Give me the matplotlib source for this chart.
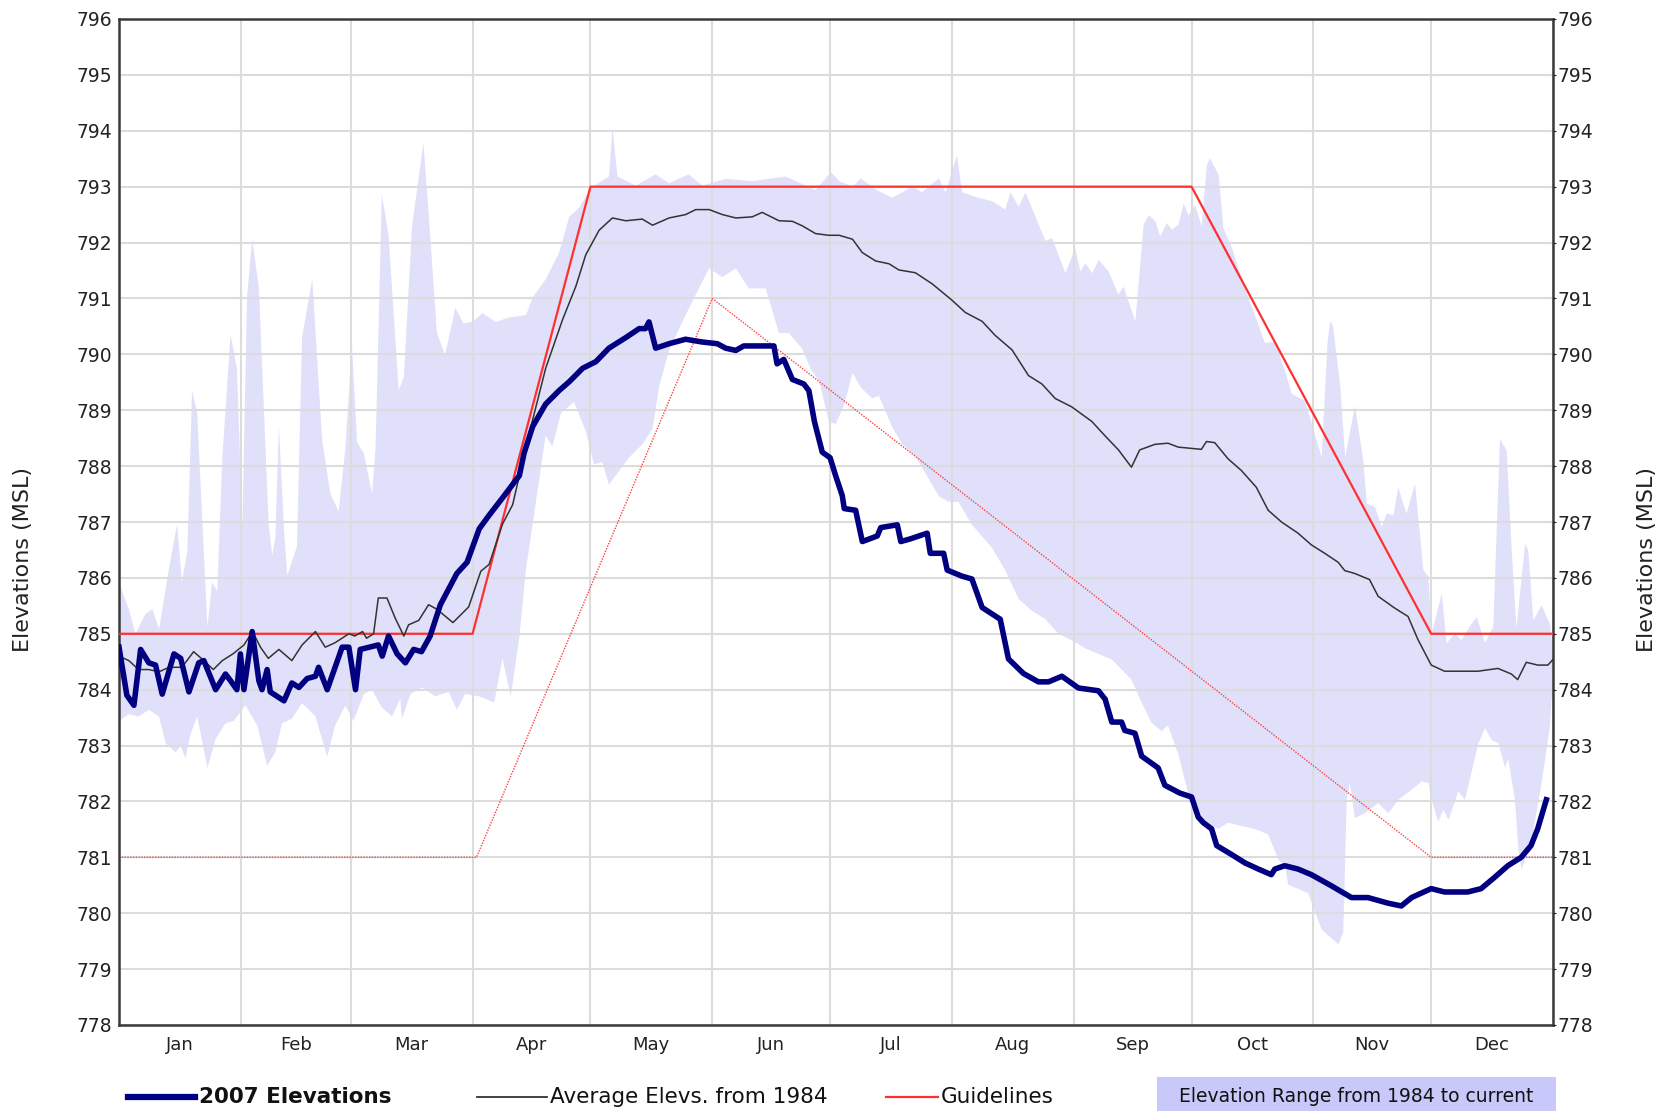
import numpy as np
import matplotlib
matplotlib.use("Agg")
import matplotlib.pyplot as plt
from matplotlib.lines import Line2D
from matplotlib.patches import Rectangle

# day of year (0..365) vs lake elevation (ft MSL)
months = ["Jan", "Feb", "Mar", "Apr", "May", "Jun", "Jul", "Aug", "Sep", "Oct", "Nov", "Dec"]
month_start = [0, 31, 59, 90, 120, 151, 181, 212, 243, 273, 304, 334, 365]

elev07_day = [0, 2, 3.8, 5.5, 7.6, 9.3, 11, 14, 15.7, 17.8, 20.3, 21.6, 24.6, 27.1, 28.4, 30,
              30.9, 31.8, 33.9, 35.6, 36.4, 37.7, 38.5, 42, 44, 45.8, 47.9, 50, 50.8, 53, 55,
              56.8, 58.5, 60.2, 61.4, 66, 67, 68.6, 70.8, 72.9, 75, 77, 79.2, 81.8, 86, 88.6,
              91.7, 94.2, 97.6, 101.9, 103.1, 105.3, 108.6, 112, 114.6, 118, 121.4, 124.7,
              129, 132.4, 134, 134.9, 136.6, 140, 144.2, 148.5, 152.3, 154.4, 157, 159, 166.7,
              167.5, 169.2, 171.4, 174.3, 175.6, 177, 179, 181, 182.4, 184.1, 184.6, 187.5,
              189.2, 193, 193.9, 198.1, 199, 201.5, 205.7, 206.5, 209.9, 210.8, 214.6, 217.1,
              219.7, 224.3, 226.4, 230.2, 234, 236.6, 240, 244.2, 249.3, 251, 252.7, 255.2,
              256, 258.6, 260.3, 264.5, 266.2, 270, 273, 274.7, 276, 278.1, 279.4, 283.2,
              286.6, 290, 293.3, 294.2, 296.7, 300.1, 303.5, 308.6, 313.7, 317.9, 323, 326.4,
              329, 334, 337.4, 343.3, 346.7, 350.1, 353.5, 356.9, 359.4, 361.1, 363.3]
elev07 = [784.76, 783.9, 783.72, 784.72, 784.48, 784.44, 783.92, 784.64, 784.56, 783.96, 784.48,
          784.52, 784.0, 784.28, 784.16, 784.0, 784.64, 784.0, 785.04, 784.16, 784.0, 784.36,
          783.96, 783.8, 784.12, 784.04, 784.2, 784.24, 784.4, 784.0, 784.4, 784.76, 784.76,
          784.0, 784.72, 784.8, 784.6, 784.96, 784.64, 784.48, 784.72, 784.68, 784.96, 785.52,
          786.08, 786.28, 786.88, 787.12, 787.43, 787.83, 788.23, 788.71, 789.11, 789.35,
          789.51, 789.75, 789.87, 790.11, 790.3, 790.46, 790.46, 790.58, 790.11, 790.19,
          790.27, 790.22, 790.19, 790.11, 790.07, 790.15, 790.15, 789.83, 789.91, 789.55,
          789.47, 789.35, 788.8, 788.25, 788.15, 787.83, 787.47, 787.24, 787.21, 786.65,
          786.75, 786.9, 786.95, 786.65, 786.7, 786.8, 786.44, 786.44, 786.14, 786.03, 785.98,
          785.47, 785.26, 784.55, 784.29, 784.14, 784.14, 784.24, 784.03, 783.98, 783.83,
          783.42, 783.42, 783.27, 783.22, 782.81, 782.6, 782.29, 782.15, 782.08, 781.72,
          781.62, 781.51, 781.21, 781.05, 780.9, 780.79, 780.69, 780.79, 780.85, 780.79,
          780.69, 780.49, 780.28, 780.28, 780.18, 780.13, 780.28, 780.44, 780.38, 780.38,
          780.44, 780.64, 780.85, 781.0, 781.21, 781.51, 782.03]

avg_day = [0, 2.5, 5, 7.6, 10.2, 12.7, 16, 19, 21.6, 24, 26.3, 29, 31.8, 34, 36, 38, 40.7, 44,
           46.6, 50, 52.5, 55, 58.5, 60, 62, 63, 64.8, 66, 68.2, 70.3, 72.5, 73.7, 76.3, 78.8,
           80.9, 85, 89, 92.1, 94.2, 97.6, 100.2, 104, 108.6, 112.9, 116.3, 118.8, 122.2,
           125.6, 129, 133.2, 135.8, 140, 144.2, 146.8, 150.2, 153.6, 157, 161.2, 163.7, 168,
           171.4, 173.9, 177.3, 180.7, 183.3, 186.7, 189.2, 192.6, 196, 198.5, 202.7, 207, 212,
           215.4, 219.7, 223, 227.3, 231.5, 234.9, 238.3, 242.5, 247.6, 251, 254.4, 257.7,
           259.8, 263.7, 267, 269.6, 275.5, 276.8, 278.9, 282.3, 285.7, 289.5, 292.5, 295.9,
           300.1, 303.5, 306.9, 310.3, 312, 314.5, 318.3, 320.5, 324.7, 328.1, 330.6, 334,
           337.4, 345.9, 351, 354.4, 356, 358.2, 361.1, 363.7, 365]
avg_elev = [784.6, 784.52, 784.36, 784.36, 784.32, 784.4, 784.4, 784.68, 784.52, 784.36, 784.52,
            784.64, 784.8, 785.04, 784.76, 784.56, 784.72, 784.52, 784.8, 785.04, 784.76,
            784.84, 785.0, 784.96, 785.04, 784.92, 785.0, 785.64, 785.64, 785.28, 784.96,
            785.16, 785.24, 785.52, 785.44, 785.2, 785.48, 786.12, 786.24, 786.96, 787.31,
            788.47, 789.75, 790.62, 791.22, 791.78, 792.22, 792.44, 792.39, 792.42, 792.31,
            792.44, 792.5, 792.59, 792.59, 792.5, 792.44, 792.46, 792.54, 792.39, 792.38, 792.3,
            792.16, 792.13, 792.13, 792.06, 791.82, 791.67, 791.62, 791.51, 791.46, 791.26,
            790.97, 790.75, 790.59, 790.34, 790.08, 789.62, 789.47, 789.21, 789.06, 788.8,
            788.54, 788.29, 787.98, 788.29, 788.39, 788.41, 788.34, 788.3, 788.44, 788.42,
            788.13, 787.92, 787.62, 787.21, 787.0, 786.8, 786.59, 786.44, 786.28, 786.13,
            786.08, 785.97, 785.67, 785.46, 785.31, 784.9, 784.44, 784.33, 784.33, 784.38,
            784.28, 784.18, 784.49, 784.44, 784.44, 784.54]

range_hi_day = [0, 2.5, 4.2, 6.8, 8.5, 10.2, 12.7, 14.8, 16, 17.4, 18.6, 19.9, 22.5, 23.7, 25,
                26.3, 28.4, 30, 31.4, 32.6, 33.9, 35.6, 38.1, 39, 39.8, 40.7, 42, 42.8, 45.3,
                46.6, 49.2, 51.7, 53.8, 55.9, 57.6, 59.3, 60.6, 62.3, 64.4, 65.3, 66.9, 68.6,
                71.2, 72.5, 74.6, 77.5, 79.2, 80.9, 83, 85.6, 87.7, 90.2, 92.5, 95.9, 99.3,
                103.6, 105.3, 108.6, 112, 114.6, 117.1, 120.1, 124.7, 125.6, 126.9, 131.5,
                136.6, 140, 145, 148.5, 154.4, 161.2, 169.7, 177.3, 181.2, 183.3, 186.7, 188.8,
                192.6, 196.8, 201.9, 204.4, 208.7, 210.4, 213.3, 214.6, 218.8, 222.2, 225.6,
                226.9, 229, 230.7, 235.8, 237.5, 240.9, 243.4, 244.7, 246, 247.7, 249.4, 251.9,
                254.4, 255.7, 258.7, 260.8, 262.1, 263.8, 265, 266.7, 268, 269.7, 271, 272.2,
                273.9, 275.6, 276.9, 277.7, 279.9, 281.1, 283.3, 286.6, 290, 291.7, 294.3,
                296.8, 298.5, 301.9, 303.6, 306.1, 307.6, 308.3, 309, 310.8, 312.1, 314.6,
                316.7, 317.6, 319.7, 321.4, 322.7, 324.4, 325.6, 327.7, 329.9, 332, 333.3,
                334.1, 336.7, 337.9, 340, 341.7, 344.3, 345.6, 347.7, 349.8, 351.5, 353.2,
                354.5, 355.7, 357.9, 358.7, 360, 362.1, 364.2, 365]
range_hi = [785.92, 785.44, 785.0, 785.36, 785.44, 785.08, 786.16, 786.96, 785.92, 786.48,
            789.35, 788.95, 785.12, 785.92, 785.76, 788.15, 790.35, 789.75, 786.96, 791.03,
            792.06, 791.19, 786.96, 786.4, 786.72, 788.71, 786.88, 786.04, 786.56, 790.31,
            791.35, 788.47, 787.51, 787.19, 788.31, 790.15, 788.43, 788.23, 787.51, 788.31,
            792.86, 792.14, 789.35, 789.59, 792.3, 793.78, 792.14, 790.39, 789.99, 790.83,
            790.55, 790.59, 790.74, 790.58, 790.66, 790.7, 791.02, 791.34, 791.82, 792.46,
            792.62, 792.98, 793.18, 794.05, 793.18, 793.02, 793.22, 793.06, 793.22, 793.02,
            793.14, 793.1, 793.18, 792.94, 793.26, 793.1, 793.0, 793.15, 792.95, 792.8, 793.0,
            792.9, 793.15, 792.9, 793.56, 792.9, 792.8, 792.74, 792.59, 792.9, 792.64, 792.9,
            792.03, 792.08, 791.45, 791.9, 791.48, 791.63, 791.45, 791.69, 791.48, 791.07,
            791.21, 790.59, 792.32, 792.49, 792.38, 792.11, 792.35, 792.23, 792.32, 792.7,
            792.49, 792.67, 792.29, 793.39, 793.51, 793.21, 792.26, 791.9, 791.18, 790.53,
            790.2, 790.23, 789.7, 789.29, 789.17, 788.76, 788.16, 790.2, 790.6, 790.5, 789.47,
            788.16, 789.08, 788.1, 787.33, 787.27, 786.91, 787.15, 787.12, 787.62, 787.15,
            787.68, 786.14, 786.02, 785.0, 785.72, 784.83, 785.0, 784.89, 785.18, 785.3,
            784.83, 785.13, 788.49, 788.28, 786.49, 785.1, 786.61, 786.49, 785.24, 785.51,
            785.18, 784.7]

range_lo_day = [0, 2.5, 5, 7.6, 10.2, 11.9, 14.4, 15.7, 16.9, 18.2, 19.9, 22.5, 24.6, 27.1,
                29.2, 32.2, 35.2, 37.7, 39.8, 41.5, 44, 46.6, 50, 53, 55, 57.6, 59.7, 62.3,
                64.4, 66.9, 69.5, 71.6, 72, 74.2, 77.1, 80.5, 83.9, 86, 88.1, 91.7, 95.5, 97.6,
                99.7, 101.9, 103.6, 106.1, 108.6, 110.3, 112.5, 115.8, 118.8, 120.9, 123, 124.7,
                126.4, 129.8, 133.2, 135.8, 137.5, 140, 144.2, 147.6, 150.2, 153.6, 157, 160.3,
                164.6, 168, 170.5, 173.9, 176, 178.2, 180.7, 182.4, 184.6, 186.7, 188.8, 191.7,
                193.4, 196.8, 199.4, 202.7, 205.3, 208.7, 211.2, 213.7, 217.1, 222.2, 225.6,
                229, 232.4, 235.8, 239.1, 243.4, 245.9, 249.3, 252.7, 257.7, 260.3, 262.8,
                265.3, 267, 269.6, 273, 276.4, 279.8, 282.3, 285.7, 289.1, 292.5, 295.1, 296.8,
                297.6, 302.7, 306.1, 310.4, 311.6, 312.5, 313.3, 314.6, 317.1, 320.5, 323.1,
                325.6, 329, 331.6, 333.3, 334.1, 335.8, 337.1, 338.4, 340.9, 342.6, 346, 347.7,
                349.4, 351.1, 352.8, 353.6, 355.3, 356.2, 357, 359.6, 362.1, 364.2, 364.6, 365]
range_lo = [783.44, 783.56, 783.52, 783.64, 783.52, 783.04, 782.88, 783.0, 782.77, 783.2,
            783.52, 782.6, 783.12, 783.4, 783.44, 783.72, 783.36, 782.64, 782.88, 783.4,
            783.48, 783.76, 783.52, 782.8, 783.36, 783.72, 783.44, 783.92, 784.0, 783.68,
            783.52, 783.84, 783.48, 783.92, 784.04, 783.88, 783.96, 783.64, 783.92, 783.88,
            783.77, 784.56, 783.88, 784.94, 786.16, 787.35, 788.55, 788.35, 788.95, 789.15,
            788.63, 788.03, 788.07, 787.67, 787.83, 788.15, 788.39, 788.67, 789.43, 790.07,
            790.7, 791.18, 791.54, 791.38, 791.54, 791.18, 791.18, 790.38, 790.38, 790.1,
            789.75, 789.52, 788.8, 788.75, 789.1, 789.67, 789.41, 789.21, 789.26, 788.7,
            788.39, 788.18, 787.87, 787.46, 787.36, 787.36, 786.95, 786.54, 786.13, 785.62,
            785.41, 785.26, 785.0, 784.85, 784.74, 784.64, 784.54, 784.18, 783.77, 783.41,
            783.26, 783.36, 782.85, 781.92, 781.62, 781.51, 781.62, 781.56, 781.51, 781.41,
            780.96, 780.84, 780.51, 780.36, 779.71, 779.44, 779.65, 782.03, 782.33, 781.7,
            781.79, 781.97, 781.79, 782.03, 782.21, 782.36, 782.33, 782.03, 781.64, 781.85,
            781.67, 782.18, 782.03, 783.04, 783.31, 783.1, 783.04, 782.6, 782.77, 782.03,
            781.14, 780.78, 781.32, 782.33, 783.34, 783.8, 784.0]

guide_hi_day = [0, 90, 120, 273, 334, 365]
guide_hi = [785, 785, 793, 793, 785, 785]
guide_lo_day = [0, 91, 151, 334, 365]
guide_lo = [781, 781, 791, 781, 781]

W, H = 1675, 1111
fig = plt.figure(figsize=(W / 100, H / 100), dpi=100)
plt.rcParams['font.family'] = ['DejaVu Sans']
ax = fig.add_axes([119 / W, 1 - 1025 / H, (1553 - 119) / W, (1025 - 19) / H])

fill_col = "#e0e0fb"
ax.fill(np.r_[range_hi_day, range_lo_day[::-1]], np.r_[range_hi, range_lo[::-1]],
        color=fill_col, lw=0, zorder=1)
ax.plot(guide_lo_day, guide_lo, color="#ff4040", lw=1.0, ls=(0, (1, 1)), zorder=2)
ax.plot(guide_hi_day, guide_hi, color="#ff3030", lw=1.6, zorder=3)
ax.plot(avg_day, avg_elev, color="#333333", lw=1.1, zorder=4)
ax.plot(elev07_day, elev07, color="#000080", lw=4.0, solid_joinstyle="round", zorder=5)

ax.set_xlim(0, 365)
ax.set_ylim(778, 796)
ax.set_yticks(range(778, 797))
ax.set_xticks([(a + b) / 2 for a, b in zip(month_start[:-1], month_start[1:])])
ax.set_xticklabels(months)
ax.set_xticks(month_start, minor=True)
ax.grid(which="minor", axis="x", color="#dcdcdc", lw=1.5)
ax.grid(which="major", axis="y", color="#dcdcdc", lw=1.5)
ax.tick_params(axis="x", which="both", length=0, pad=8, labelsize=13, colors="#222222")
ax.tick_params(axis="y", length=0, pad=5, labelsize=13.5, colors="#222222")
for s in ax.spines.values():
    s.set_color("#3a3a3a")
    s.set_linewidth(1.8)

ax2 = ax.twinx()
ax2.set_ylim(778, 796)
ax2.set_yticks(range(778, 797))
ax2.tick_params(axis="y", length=2, pad=1, labelsize=13.5, colors="#222222")
for s in ax2.spines.values():
    s.set_visible(False)

# axis titles on both sides
fig.text(23.5 / W, 1 - 560 / H, "Elevations (MSL)", fontsize=16, rotation=90,
         ha="center", va="center", color="#222222")
fig.text(1647 / W, 1 - 560 / H, "Elevations (MSL)", fontsize=16, rotation=90,
         ha="center", va="center", color="#222222")

# legend row under the chart
ly = 1 - 1097 / H
fig.add_artist(Line2D([128 / W, 195 / W], [ly, ly], color="#000080", lw=4.5))
fig.text(199 / W, ly, "2007 Elevations", fontsize=15.5, fontweight="bold", va="center",
         color="#111111")
fig.add_artist(Line2D([477 / W, 547 / W], [ly, ly], color="#333333", lw=1.3))
fig.text(550 / W, ly, "Average Elevs. from 1984", fontsize=15.5, va="center", color="#111111")
fig.add_artist(Line2D([886 / W, 938 / W], [ly, ly], color="#ff3030", lw=1.6))
fig.text(941 / W, ly, "Guidelines", fontsize=15.5, va="center", color="#111111")
fig.add_artist(Rectangle((1157 / W, 0), (1556 - 1157) / W, 34 / H, transform=fig.transFigure,
                         facecolor="#c8c8fa", edgecolor="none"))
fig.text(1356 / W, ly, "Elevation Range from 1984 to current", fontsize=13.5, va="center",
         ha="center", color="#111111")

fig.savefig("out.png", dpi=100)
